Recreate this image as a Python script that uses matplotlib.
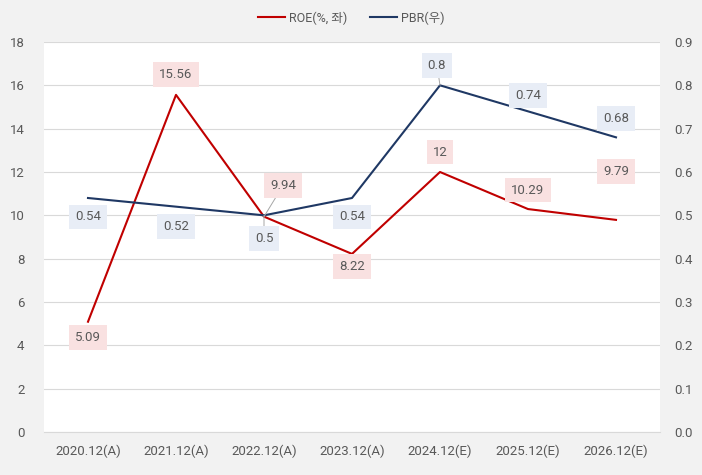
import matplotlib.pyplot as plt

plt.rcParams['font.family'] = ['Roboto', 'Noto Sans CJK KR', 'DejaVu Sans']

years = ['2020.12(A)', '2021.12(A)', '2022.12(A)', '2023.12(A)',
         '2024.12(E)', '2025.12(E)', '2026.12(E)']
roe = [5.09, 15.56, 9.94, 8.22, 12, 10.29, 9.79]
pbr = [0.54, 0.52, 0.5, 0.54, 0.8, 0.74, 0.68]

# label offsets in pixels (dx, dy)
roe_off = [(0, -16), (0, 20), (19, 31), (0, -13), (0, 20), (0, 19), (0, 48)]
pbr_off = [(0, -19), (0, -20), (0, -23), (0, -19), (-3, 20), (0, 16), (0, 19)]
roe_lead = [False, False, True, False, False, False, False]
pbr_lead = [False, False, True, False, True, False, False]

RED = '#c00000'
NAVY = '#1f3864'
TXT = '#595959'

fig = plt.figure(figsize=(7.02, 4.75), dpi=100, facecolor='#f2f2f2')
ax = fig.add_axes([44 / 702, 43 / 475, 616 / 702, 390 / 475])
ax.set_facecolor('white')
ax2 = ax.twinx()

x = list(range(len(years)))
l1, = ax.plot(x, roe, color=RED, lw=1.5, label='ROE(%, 좌)', zorder=3)
l2, = ax2.plot(x, pbr, color=NAVY, lw=1.5, label='PBR(우)', zorder=3)

ax.set_xlim(-0.5, 6.5)
ax.set_ylim(0, 18)
ax.set_yticks(range(0, 19, 2))
ax2.set_ylim(0, 0.9)
ax2.set_yticks([i / 10 for i in range(10)])
ax2.set_yticklabels([f'{i / 10:.1f}' for i in range(10)])
ax.set_xticks(x)
ax.set_xticklabels(years)

ax.grid(axis='y', color='#d9d9d9', lw=0.8)
ax.set_axisbelow(True)
for a in (ax, ax2):
    for s in a.spines.values():
        s.set_visible(False)
    a.tick_params(length=0, labelsize=9.5, colors=TXT)
ax.spines['bottom'].set_visible(True)
ax.spines['bottom'].set_color('#d9d9d9')
ax.tick_params(axis='y', pad=14)
ax2.tick_params(axis='y', pad=10)
ax.tick_params(axis='x', pad=9)


def label(a, xi, yi, txt, off, lead, fc):
    arrow = dict(arrowstyle='-', color='#a6a6a6', lw=0.7, shrinkA=0, shrinkB=0) if lead else None
    a.annotate(txt, (xi, yi), xytext=off, textcoords='offset pixels',
               ha='center', va='center', fontsize=9.5, color=TXT, zorder=5,
               bbox=dict(boxstyle='square,pad=0.45', fc=fc, ec='none'),
               arrowprops=arrow)


for i in x:
    label(ax2, i, roe[i] / 20, f'{roe[i]:g}', roe_off[i], roe_lead[i], '#f9e1e1')
    label(ax2, i, pbr[i], f'{pbr[i]:g}', pbr_off[i], pbr_lead[i], '#e8edf6')

fig.legend(handles=[l1, l2], loc='center', bbox_to_anchor=(0.5, 1 - 18 / 475),
           ncol=2, frameon=False, fontsize=9, labelcolor=TXT,
           handlelength=2.2, columnspacing=1.8, handletextpad=0.3)

fig.savefig('out.png', dpi=100, facecolor=fig.get_facecolor())
